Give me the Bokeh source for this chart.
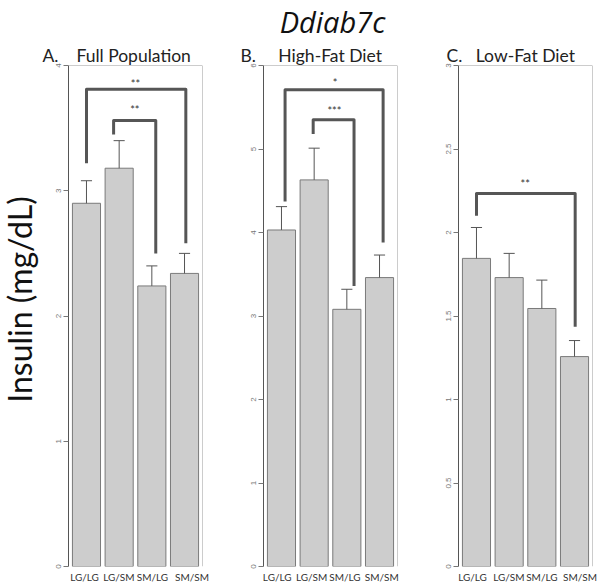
import math
from bokeh.plotting import figure
from bokeh.layouts import row, column
from bokeh.models import Range1d, FixedTicker, Span, ColumnDataSource, Title
from bokeh.core.properties import value
from bokeh.embed import file_html
from bokeh.resources import INLINE

# ---------------- data ----------------
groups = ["LG/LG", "LG/SM", "SM/LG", "SM/SM"]

full_mean = [2.90, 3.18, 2.24, 2.34]
full_se = [0.18, 0.22, 0.16, 0.16]

hf_mean = [4.03, 4.63, 3.08, 3.46]
hf_se = [0.28, 0.38, 0.24, 0.27]

lf_mean = [1.845, 1.73, 1.545, 1.257]
lf_se = [0.185, 0.145, 0.17, 0.096]

full_ticks = [0, 1, 2, 3, 4]
hf_ticks = [0, 1, 2, 3, 4, 5, 6]
lf_ticks = [0.0, 0.5, 1.0, 1.5, 2.0, 2.5, 3.0]

# significance brackets:
# (left x, right x, top y, left-leg bottom, right-leg bottom, stars, stars x, stars y)
full_brackets = [(1.00, 4.04, 3.81, 3.22, 2.58, "**", 2.50, 3.88),
                 (1.83, 3.12, 3.56, 3.45, 2.50, "**", 2.48, 3.67)]
hf_brackets = [(1.11, 4.11, 5.71, 4.37, 3.88, "*", 2.64, 5.83),
               (1.97, 3.22, 5.35, 5.18, 3.36, "***", 2.62, 5.50)]
lf_brackets = [(1.00, 4.02, 2.234, 2.10, 1.436, "**", 2.49, 2.31)]

main_title = "Ddiab7c"
NB = "\u00a0"
panel_titles = ["A." + NB * 4 + "Full Population",
                "B." + NB * 5 + "High-Fat Diet",
                "C." + NB * 3 + "Low-Fat Diet"]
y_label = "Insulin (mg/dL)"

FONT = "Lato"
TOP_H = 42
PANEL_H = 546


def panel(means, ses, ymax, ticks, width, bl, br, brackets, ptitle, toffset,
          label_pos):
    p = figure(width=width, height=PANEL_H, x_range=Range1d(0.45, 4.55),
               y_range=Range1d(0, ymax), output_backend="svg",
               toolbar_location=None, min_border_left=bl, min_border_right=br,
               min_border_top=22, min_border_bottom=22)
    p.xgrid.visible = False
    p.ygrid.visible = False
    p.outline_line_color = None
    p.background_fill_color = "white"
    p.border_fill_color = "white"

    xs = [1, 2, 3, 4]
    src = ColumnDataSource(dict(x=xs, top=means,
                                up=[m + s for m, s in zip(means, ses)],
                                cl=[x - 0.17 for x in xs],
                                cr=[x + 0.17 for x in xs]))
    p.vbar(x="x", top="top", bottom=0, width=0.86, source=src,
           fill_color="#cdcdcd", line_color="#7a7a7a", line_width=1)
    p.segment(x0="x", y0="top", x1="x", y1="up", source=src,
              line_color="#555555", line_width=1)
    p.segment(x0="cl", y0="up", x1="cr", y1="up", source=src,
              line_color="#555555", line_width=1)

    bx = [[b[0], b[0], b[1], b[1]] for b in brackets]
    by = [[b[3], b[2], b[2], b[4]] for b in brackets]
    p.multi_line(xs=bx, ys=by, line_color="#565656", line_width=3,
                 line_join="round", line_cap="butt")
    ssrc = ColumnDataSource(dict(x=[b[6] for b in brackets],
                                 y=[b[7] for b in brackets],
                                 t=[b[5] for b in brackets]))
    p.text(x="x", y="y", text="t", source=ssrc, text_align="center",
           text_baseline="middle", text_font=value(FONT),
           text_font_size="11px", text_color="#333333", y_offset=3)

    # light frame on top and right
    p.add_layout(Span(location=ymax, dimension="width",
                      line_color="#9a9a9a", line_width=1))
    p.add_layout(Span(location=4.55, dimension="height",
                      line_color="#9a9a9a", line_width=1))

    ya = p.yaxis[0]
    ya.ticker = FixedTicker(ticks=ticks)
    ya.major_label_orientation = "vertical"
    ya.major_label_text_font = "Liberation Sans"
    ya.major_label_text_font_size = "8px"
    ya.major_label_text_color = "#777777"
    ya.axis_line_color = "#555555"
    ya.major_tick_line_color = "#777777"
    ya.major_tick_out = 5
    ya.major_tick_in = 0
    ya.minor_tick_line_color = None
    ya.major_label_standoff = 3

    xa = p.xaxis[0]
    xa.ticker = FixedTicker(ticks=label_pos)
    xa.major_label_overrides = {x: g for x, g in zip(label_pos, groups)}
    xa.axis_line_color = None
    xa.major_tick_line_color = None
    xa.minor_tick_line_color = None
    xa.major_tick_out = 0
    xa.major_tick_in = 0
    xa.major_label_standoff = 4
    xa.major_label_text_font = FONT
    xa.major_label_text_font_size = "10px"
    xa.major_label_text_color = "#333333"

    p.add_layout(Title(text=ptitle, align="left", offset=toffset, standoff=0,
                       text_font=FONT, text_font_size="17.5px",
                       text_font_style="normal", text_color="#222222"),
                 "above")
    return p


def text_fig(width, height):
    f = figure(width=width, height=height, x_range=Range1d(0, width),
               y_range=Range1d(height, 0), output_backend="svg",
               toolbar_location=None, min_border=0, title=None)
    f.axis.visible = False
    f.grid.visible = False
    f.outline_line_color = None
    f.background_fill_color = "white"
    f.border_fill_color = "white"
    return f


pA = panel(full_mean, full_se, 4, full_ticks, 192, 28, 30, full_brackets,
           panel_titles[0], -26, [0.94, 1.99, 3.02, 4.23])
pB = panel(hf_mean, hf_se, 6, hf_ticks, 196, 31, 31, hf_brackets,
           panel_titles[1], -23, [0.87, 1.92, 2.94, 4.07])
pC = panel(lf_mean, lf_se, 3.0, lf_ticks, 176, 30, 12, lf_brackets,
           panel_titles[2], -12, [0.88, 1.99, 3.00, 4.17])

top = text_fig(604, TOP_H)
top.text(x=[332], y=[21], text=[main_title], text_align="center",
         text_baseline="middle", text_font=value("Open Sans"),
         text_font_size="29px", text_font_style="italic", text_color="#111111")

left = text_fig(40, PANEL_H)
left.text(x=[19], y=[255], text=[y_label], angle=math.pi / 2,
          text_align="center", text_baseline="middle", text_font=value(FONT),
          text_font_size="32px", text_color="#111111")

layout = column(top, row(left, pA, pB, pC))
open("out.html", "w").write(file_html(layout, INLINE))
